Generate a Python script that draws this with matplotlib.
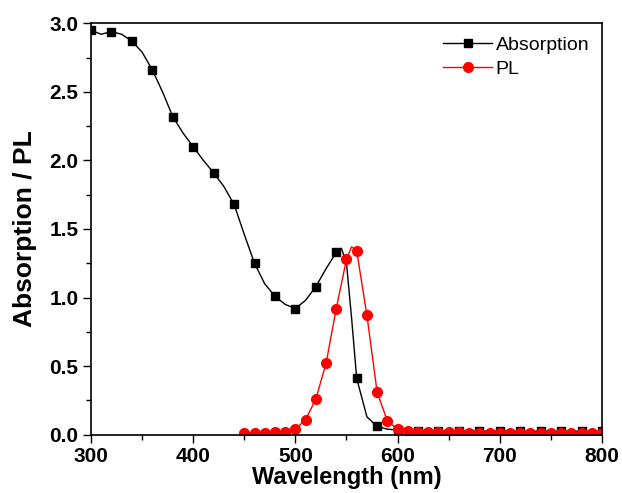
import numpy as np
import matplotlib
matplotlib.use('Agg')
import matplotlib.pyplot as plt
from matplotlib.ticker import MultipleLocator, FormatStrFormatter

plt.rcParams['font.family'] = ['Liberation Sans', 'DejaVu Sans']

# Absorption spectrum (markers every 20 nm)
abs_wl = [300, 310, 320, 330, 340, 350, 360, 370, 380, 390,
          400, 410, 420, 430, 440, 450, 460, 470, 480, 490,
          500, 510, 520, 530, 540, 545, 550, 555, 560, 570, 580, 590,
          600, 610, 620, 630, 640, 650, 660, 670, 680, 690,
          700, 710, 720, 730, 740, 750, 760, 770, 780, 790, 800]
abs_val = [2.95, 2.92, 2.94, 2.92, 2.87, 2.79, 2.66, 2.50, 2.32, 2.20,
           2.10, 2.00, 1.91, 1.81, 1.68, 1.46, 1.25, 1.10, 1.01, 0.95,
           0.92, 0.98, 1.08, 1.21, 1.33, 1.36, 1.25, 0.85, 0.41, 0.13, 0.06, 0.04,
           0.035, 0.03, 0.03, 0.028, 0.028, 0.027, 0.027, 0.026, 0.026, 0.026,
           0.026, 0.025, 0.025, 0.025, 0.025, 0.025, 0.025, 0.025, 0.025, 0.025, 0.025]

# Photoluminescence spectrum (markers every 10 nm)
pl_wl = [450, 460, 470, 480, 490, 500, 510, 520, 530, 540,
         550, 555, 560, 570, 580, 590, 600, 610, 620, 630, 640,
         650, 660, 670, 680, 690, 700, 710, 720, 730, 740,
         750, 760, 770, 780, 790, 800]
pl_val = [0.01, 0.015, 0.015, 0.02, 0.02, 0.04, 0.11, 0.26, 0.52, 0.92,
          1.28, 1.37, 1.34, 0.87, 0.31, 0.10, 0.04, 0.025, 0.02, 0.018, 0.017,
          0.016, 0.016, 0.015, 0.015, 0.015, 0.015, 0.015, 0.015, 0.015, 0.015,
          0.015, 0.015, 0.015, 0.015, 0.015, 0.015]

abs_marks = [i for i, w in enumerate(abs_wl) if w % 20 == 0]
pl_marks = [i for i, w in enumerate(pl_wl) if w % 10 == 0]

fig = plt.figure(figsize=(6.22, 4.93), dpi=100)
ax = fig.add_axes([0.1463, 0.1183, 0.8215, 0.8344])

ax.plot(abs_wl, abs_val, color='black', lw=1.0, marker='s', markersize=6,
        markevery=abs_marks, label='Absorption')
ax.plot(pl_wl, pl_val, color='red', lw=1.0, marker='o', markersize=7,
        markevery=pl_marks, label='PL')

ax.set_xlim(300, 800)
ax.set_ylim(0, 3.0)
ax.xaxis.set_major_locator(MultipleLocator(100))
ax.xaxis.set_minor_locator(MultipleLocator(50))
ax.yaxis.set_major_locator(MultipleLocator(0.5))
ax.yaxis.set_minor_locator(MultipleLocator(0.25))
ax.yaxis.set_major_formatter(FormatStrFormatter('%.1f'))

ax.tick_params(which='both', direction='out', top=False, right=False, width=1.0)
ax.tick_params(which='major', length=6, labelsize=15, pad=3)
ax.tick_params(which='minor', length=3.5)
for lab in ax.get_xticklabels() + ax.get_yticklabels():
    lab.set_fontweight('bold')
for sp in ax.spines.values():
    sp.set_linewidth(1.2)

ax.set_xlabel('Wavelength (nm)', fontsize=17, fontweight='bold', labelpad=0)
ax.set_ylabel('Absorption / PL', fontsize=19, fontweight='bold', labelpad=9)

ax.legend(loc='upper right', frameon=False, fontsize=14, handlelength=2.5,
          handletextpad=0.2, labelspacing=0.35, borderaxespad=0.25)

fig.savefig('out.png', dpi=100)
